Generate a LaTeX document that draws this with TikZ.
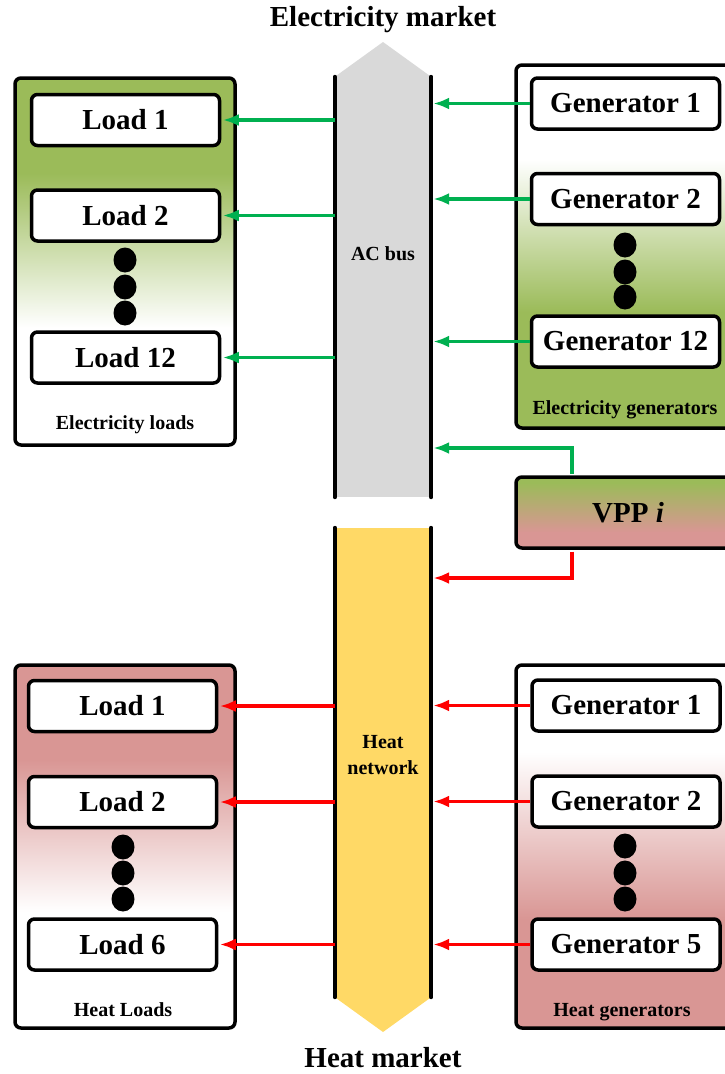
\documentclass[tikz,border=0pt]{standalone}
\usepackage{fontspec}
\setmainfont{Liberation Serif}
\usetikzlibrary{arrows.meta}

\definecolor{elecgreen}{HTML}{9BBB59}
\definecolor{heatred}{HTML}{D99694}
\definecolor{busgray}{HTML}{D9D9D9}
\definecolor{busyellow}{HTML}{FFD966}
\definecolor{flowgreen}{HTML}{00B050}
\definecolor{flowred}{HTML}{FF0000}

% Group fills
\pgfdeclareverticalshading{greentop}{100bp}{color(0bp)=(white); color(41bp)=(white); color(62bp)=(elecgreen); color(100bp)=(elecgreen)}
\pgfdeclareverticalshading{greenbottom}{100bp}{color(0bp)=(elecgreen); color(41bp)=(elecgreen); color(62bp)=(white); color(100bp)=(white)}
\pgfdeclareverticalshading{redtop}{100bp}{color(0bp)=(white); color(41bp)=(white); color(62bp)=(heatred); color(100bp)=(heatred)}
\pgfdeclareverticalshading{redbottom}{100bp}{color(0bp)=(heatred); color(40bp)=(heatred); color(63bp)=(white); color(100bp)=(white)}
\pgfdeclareverticalshading{vppmix}{100bp}{color(0bp)=(heatred); color(36bp)=(heatred); color(71bp)=(elecgreen); color(100bp)=(elecgreen)}

\begin{document}
\begin{tikzpicture}[x=1pt,y=1pt,
    bigtxt/.style={font=\fontsize{29}{32}\selectfont\bfseries},
    smalltxt/.style={font=\fontsize{20}{26}\selectfont\bfseries},
    unitbox/.style={draw,line width=3.5pt,rounded corners=6pt,fill=white,
        minimum width=188pt,minimum height=51pt,inner sep=0pt,bigtxt},
    groupbox/.style={draw,line width=3.5pt,rounded corners=6pt},
    busbar/.style={minimum width=96pt,inner sep=0pt},
    busline/.style={line width=4pt,line cap=round},
    elecflow/.style={draw=flowgreen,line width=3.4pt,-{Latex[length=16pt,width=12pt]}},
    heatflow/.style={draw=flowred,line width=3.4pt,-{Latex[length=16pt,width=12pt]}}]

    \useasboundingbox (0,0) rectangle (725,-1074);
    \clip (0,0) rectangle (725,-1074);

    % Markets
    \node[bigtxt] (emarket) at (383,-20) {Electricity market};
    \node[bigtxt] (hmarket) at (383,-1058) {Heat market};

    % AC bus
    \node[busbar,fill=busgray,minimum height=420pt] (acbus) at (383,-287) {};
    \fill[busgray] (acbus.north west) -- (383,-42) -- (acbus.north east) -- cycle;
    \draw[busline] (acbus.north west) -- (acbus.south west);
    \draw[busline] (acbus.north east) -- (acbus.south east);
    \node[smalltxt] (aclabel) at (383,-254) {AC bus};

    % Heat network
    \node[busbar,fill=busyellow,minimum height=469pt] (heatbus) at (383,-762.5) {};
    \fill[busyellow] (heatbus.south west) -- (383,-1032) -- (heatbus.south east) -- cycle;
    \draw[busline] (heatbus.north west) -- (heatbus.south west);
    \draw[busline] (heatbus.north east) -- (heatbus.south east);
    \node[smalltxt,align=center] (heatlabel) at (383,-755) {Heat\\network};

    % Groups
    \shadedraw[groupbox,shading=greentop] (15,-78) rectangle (235,-445);
    \shadedraw[groupbox,shading=greenbottom] (516,-65) rectangle (740,-428);
    \shadedraw[groupbox,shading=redtop] (15,-665) rectangle (235,-1028);
    \shadedraw[groupbox,shading=redbottom] (516,-665) rectangle (740,-1028);
    \node[smalltxt] (eloadlabel) at (125,-425) {Electricity loads};
    \node[smalltxt] (egenlabel) at (625,-410) {Electricity generators};
    \node[smalltxt] (hloadlabel) at (123,-1010) {Heat Loads};
    \node[smalltxt] (hgenlabel) at (622,-1012) {Heat generators};

    % Electricity loads and generators
    \node[unitbox] (eload1) at (125.5,-120) {Load 1};
    \node[unitbox] (eload2) at (125.5,-215.5) {Load 2};
    \node[unitbox] (eload12) at (125.5,-357.5) {Load 12};
    \node[unitbox] (egen1) at (625.5,-103.5) {Generator 1};
    \node[unitbox] (egen2) at (625.5,-199) {Generator 2};
    \node[unitbox] (egen12) at (625.5,-341.5) {Generator 12};
    \foreach \y in {260,287,313} \fill (125,-\y) ellipse (11.5pt and 12.5pt);
    \foreach \y in {245,272,297} \fill (625,-\y) ellipse (11.5pt and 12.5pt);

    % Heat loads and generators
    \node[unitbox] (hload1) at (122.5,-706) {Load 1};
    \node[unitbox] (hload2) at (122.5,-802) {Load 2};
    \node[unitbox] (hload6) at (122.5,-944.5) {Load 6};
    \node[unitbox] (hgen1) at (626,-705.5) {Generator 1};
    \node[unitbox] (hgen2) at (626,-801.5) {Generator 2};
    \node[unitbox] (hgen5) at (626,-944.5) {Generator 5};
    \foreach \y in {847,873,899} \fill (123,-\y) ellipse (11.5pt and 12.5pt);
    \foreach \y in {846,873,899} \fill (625,-\y) ellipse (11.5pt and 12.5pt);

    % VPP
    \node[unitbox,shading=vppmix,minimum width=224pt,minimum height=71pt] (vpp) at (628,-512.5) {VPP \textit{i}};

    % Electricity flows
    \draw[elecflow,shorten >=1.5pt] (acbus.west |- eload1) -- (eload1.east);
    \draw[elecflow,shorten >=1.5pt] (acbus.west |- eload2) -- (eload2.east);
    \draw[elecflow,shorten >=1.5pt] (acbus.west |- eload12) -- (eload12.east);
    \draw[elecflow,shorten >=2pt] (egen1.west) -- (acbus.east |- egen1);
    \draw[elecflow,shorten >=2pt] (egen2.west) -- (acbus.east |- egen2);
    \draw[elecflow,shorten >=2pt] (egen12.west) -- (acbus.east |- egen12);

    % Heat flows
    \draw[heatflow,shorten >=1.5pt] (heatbus.west |- hload1) -- (hload1.east);
    \draw[heatflow,shorten >=1.5pt] (heatbus.west |- hload2) -- (hload2.east);
    \draw[heatflow,shorten >=1.5pt] (heatbus.west |- hload6) -- (hload6.east);
    \draw[heatflow,shorten >=2pt] (hgen1.west) -- (heatbus.east |- hgen1);
    \draw[heatflow,shorten >=2pt] (hgen2.west) -- (heatbus.east |- hgen2);
    \draw[heatflow,shorten >=2pt] (hgen5.west) -- (heatbus.east |- hgen5);

    % VPP links
    \coordinate (elecin) at (acbus.east |- 0,-448);
    \coordinate (heatin) at (heatbus.east |- 0,-578);
    \draw[elecflow,shorten <=1.75pt,shorten >=2pt] ([xshift=-56pt]vpp.north) |- (elecin);
    \draw[heatflow,shorten <=1.75pt,shorten >=2pt] ([xshift=-56pt]vpp.south) |- (heatin);
\end{tikzpicture}
\end{document}
